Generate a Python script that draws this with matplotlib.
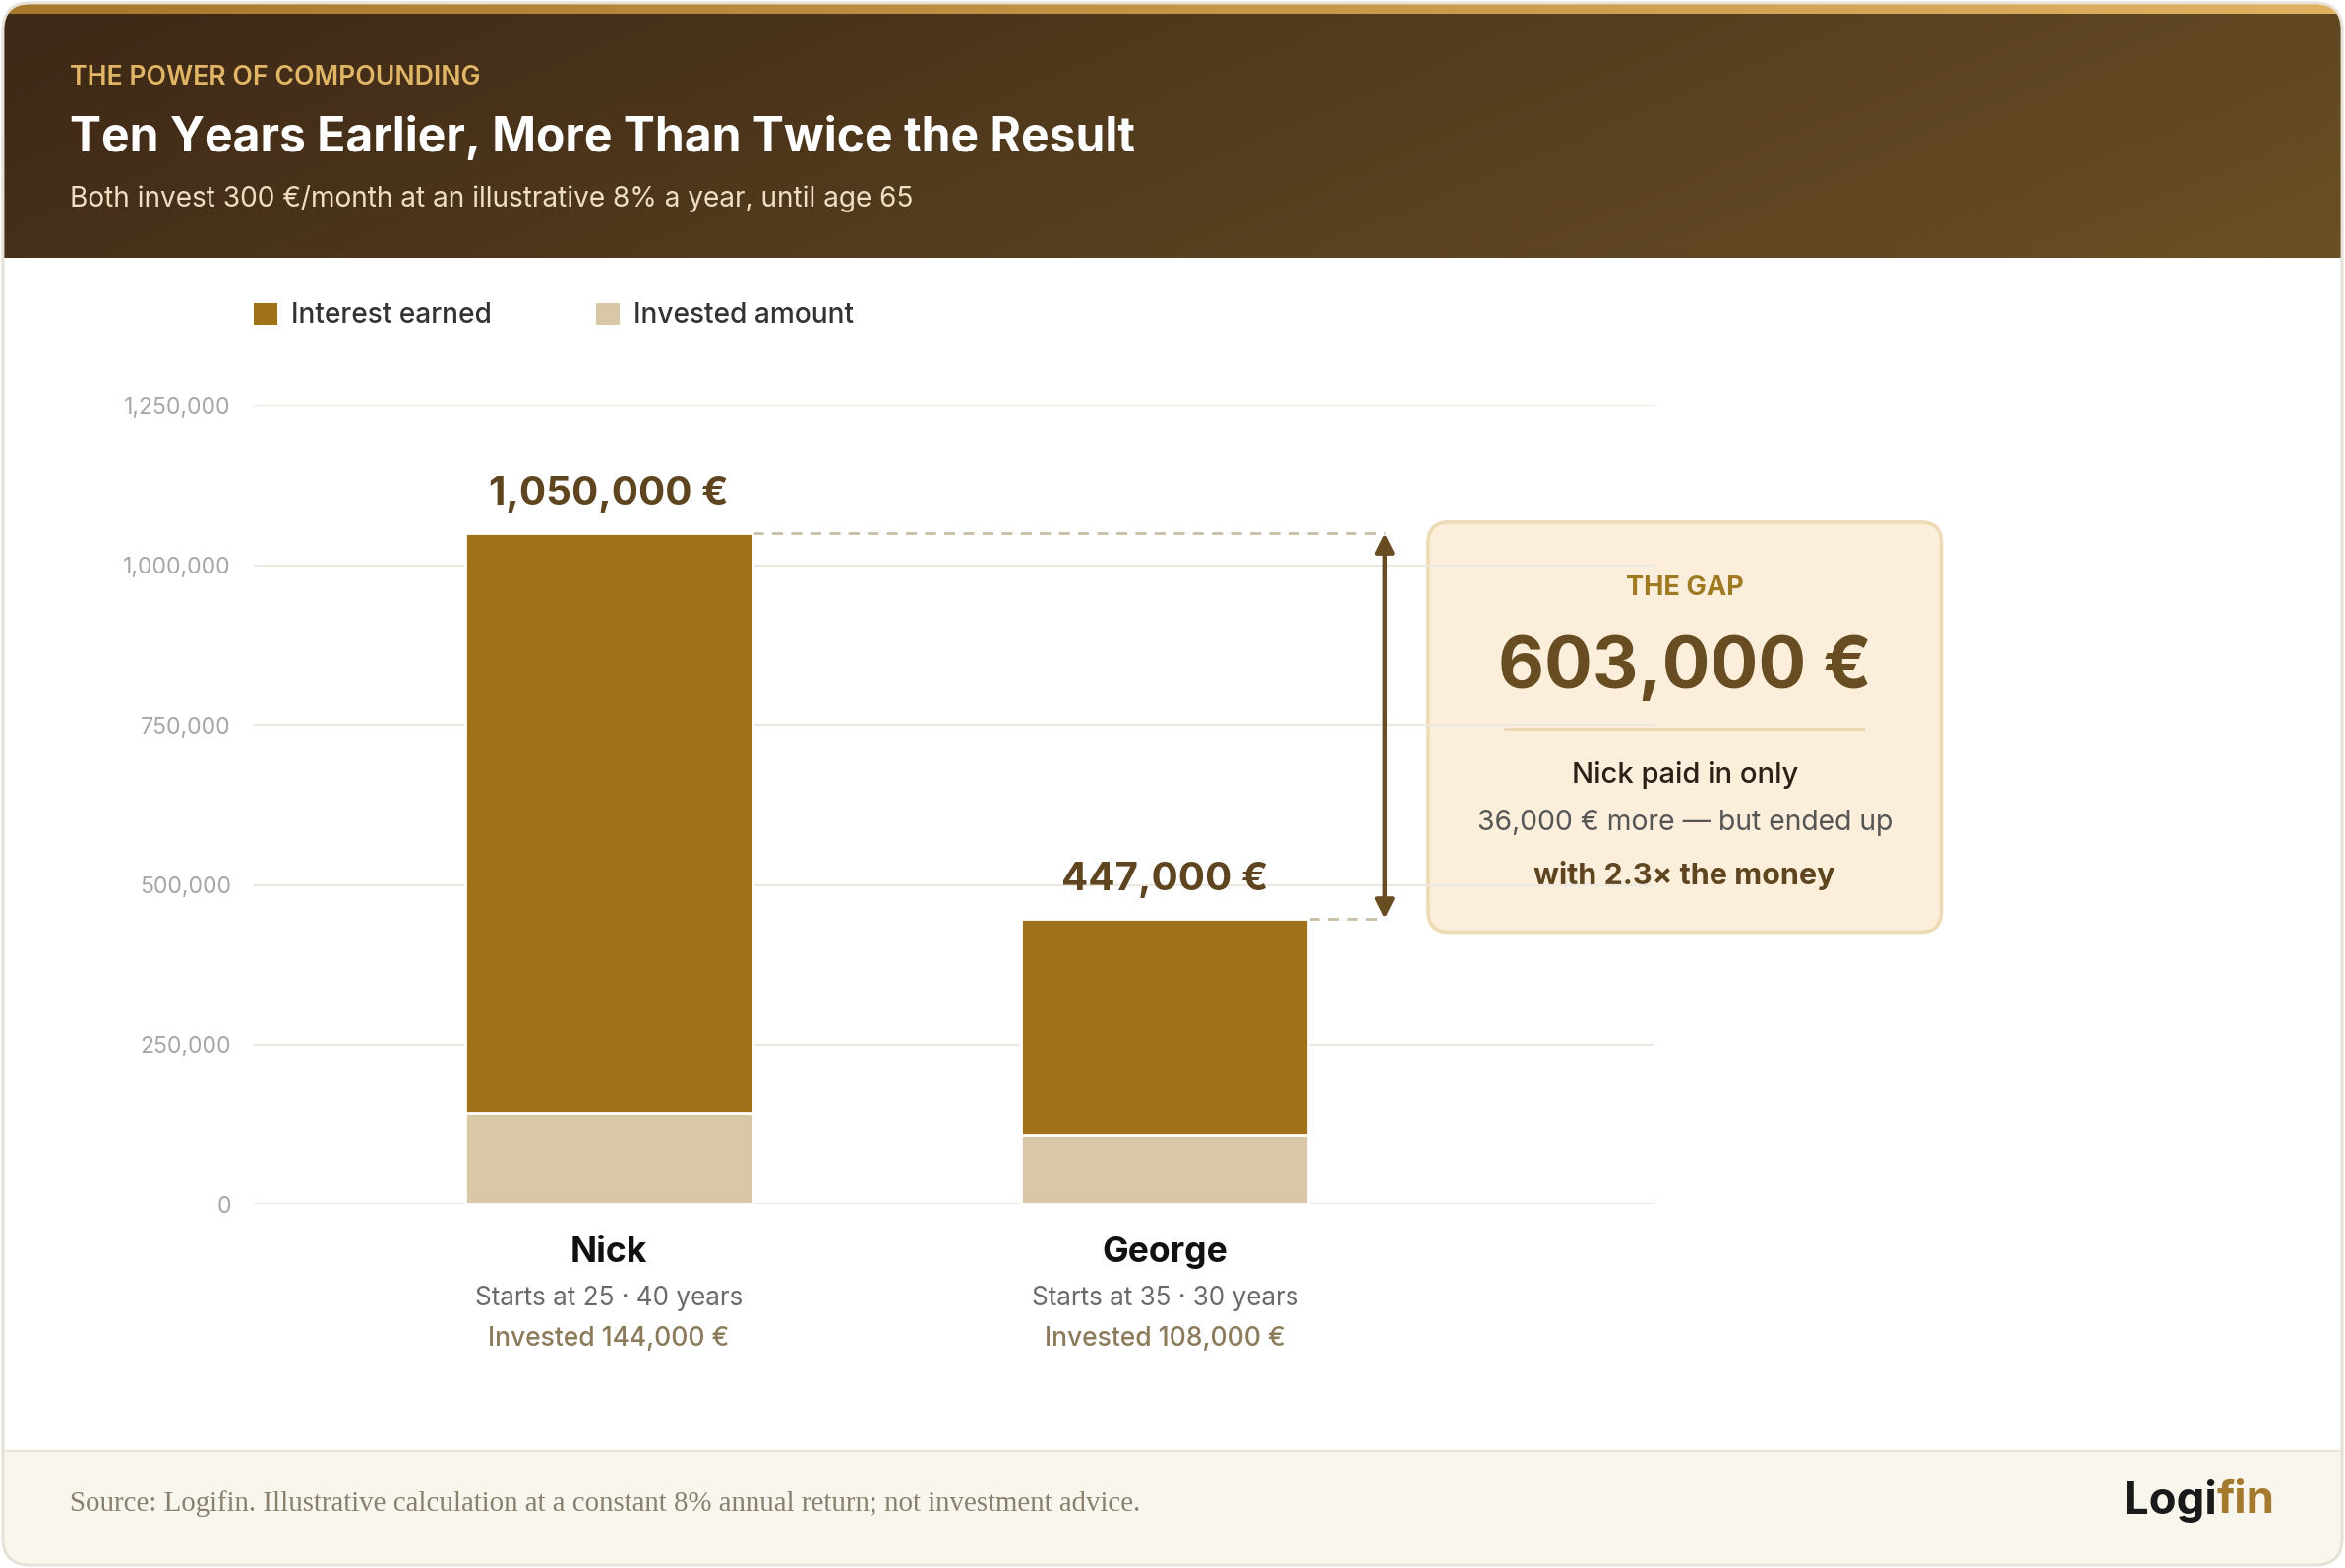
"""
Compounding comparison chart: Nick vs George
"""

import matplotlib
matplotlib.use('Agg')
import matplotlib.pyplot as plt
import numpy as np
from matplotlib.patches import FancyBboxPatch, Rectangle, Patch

plt.rcParams['font.family'] = ['Inter', 'DejaVu Sans']

# Data
people = ['Nick', 'George']
start_ages = [25, 35]
years_invested = [40, 30]
invested = [144000, 108000]
interest = [906000, 339000]
totals = [1050000, 447000]
gap_value = 603000
extra_paid = 36000
multiple = 2.3
yticks = [0, 250000, 500000, 750000, 1000000, 1250000]

# Colours
c_interest = '#a07119'
c_invested = '#d8c8a6'
c_dark = '#684c22'
c_grid = '#ece9e0'

fig = plt.figure(figsize=(11.92, 7.97), dpi=200)

# Background axes in reference pixel units (1568 x 1048)
bg = fig.add_axes([0, 0, 1, 1], zorder=0)
bg.set_xlim(0, 1568)
bg.set_ylim(1048, 0)
bg.axis('off')

card = FancyBboxPatch((2, 2), 1564, 1044, boxstyle='round,pad=0,rounding_size=18',
                      facecolor='white', edgecolor='#e6e2d8', linewidth=1.0)
bg.add_patch(card)

# header gradient
gx = np.linspace(0, 1, 400)[None, :]
gy = np.linspace(0, 1, 60)[:, None]
t = np.clip(0.8 * gx + 0.2 * gy, 0, 1)
left = np.array([0x3d, 0x28, 0x16]) / 255
right = np.array([0x6a, 0x4f, 0x25]) / 255
grad = left[None, None, :] * (1 - t[..., None]) + right[None, None, :] * t[..., None]
im = bg.imshow(grad, extent=[2, 1566, 172, 8], aspect='auto', zorder=1)
im.set_clip_path(card)

# gold strip at top
sx = np.linspace(0, 1, 400)[None, :]
s_left = np.array([0xa6, 0x78, 0x2c]) / 255
s_right = np.array([0xe0, 0xb2, 0x62]) / 255
strip = s_left[None, None, :] * (1 - sx[..., None]) + s_right[None, None, :] * sx[..., None]
im2 = bg.imshow(strip, extent=[2, 1566, 9, 2], aspect='auto', zorder=1.1)
im2.set_clip_path(card)

# footer
foot = Rectangle((2, 970), 1564, 76, facecolor='#f9f6ee', edgecolor='none', zorder=1)
bg.add_patch(foot)
foot.set_clip_path(card)
bg.plot([2, 1566], [970, 970], color='#ece7dc', lw=0.8, zorder=1.2)
bg.add_patch(FancyBboxPatch((2, 2), 1564, 1044, boxstyle='round,pad=0,rounding_size=18',
                            facecolor='none', edgecolor='#e6e2d8', linewidth=1.0, zorder=3))

# header text
bg.text(47, 52, 'THE POWER OF COMPOUNDING', color='#e0b565', fontsize=9.6,
        fontweight='semibold', va='center', ha='left', zorder=4)
bg.text(47, 93, 'Ten Years Earlier, More Than Twice the Result', color='white',
        fontsize=17.3, fontweight='bold', va='center', ha='left', zorder=4)
bg.text(47, 133, 'Both invest 300 €/month at an illustrative 8% a year, until age 65',
        color='#eedfc4', fontsize=10.1, va='center', ha='left', zorder=4)

# footer text
bg.text(47, 1005, 'Source: Logifin. Illustrative calculation at a constant 8% annual return; not investment advice.',
        color='#8a8070', fontsize=10.4, family='Liberation Serif', va='center', ha='left', zorder=4)
t_fin = bg.text(1521, 1003, 'fin', color='#a37a2e', fontsize=16.4, fontweight='bold',
                va='center', ha='right', zorder=4)

# Chart axes
ax = fig.add_axes([170 / 1568, 1 - 805 / 1048, 936 / 1568, 534 / 1048], zorder=2)
ax.patch.set_alpha(0)
x = np.arange(len(people))
bw = 0.516
ax.bar(x, invested, width=bw, color=c_invested, edgecolor='white', linewidth=1.0, zorder=3)
ax.bar(x, interest, bottom=invested, width=bw, color=c_interest, edgecolor='white',
       linewidth=1.0, zorder=3)

ax.set_xlim(-0.637, 1.879)
ax.set_ylim(0, 1250000)
ax.set_yticks(yticks)
ax.set_yticklabels([f'{v:,}' for v in yticks])
ax.tick_params(axis='y', length=0, pad=8.5, labelsize=8.3, labelcolor='#a6a6a6')
ax.set_xticks([])
for s in ax.spines.values():
    s.set_visible(False)
ax.yaxis.grid(True, color=c_grid, linewidth=0.8)
ax.set_axisbelow(True)

# value labels and category labels
for i, name in enumerate(people):
    ax.annotate(f'{totals[i]:,} €', xy=(x[i], totals[i]), xytext=(0, 10.5),
                textcoords='offset points', ha='center', va='baseline',
                fontsize=14.5, fontweight='bold', color='#5e4520', zorder=5)
    ax.annotate(name, xy=(x[i], 0), xytext=(0, -17.5), textcoords='offset points',
                ha='center', va='center', fontsize=12.8, fontweight='bold',
                color='#111111', annotation_clip=False)
    ax.annotate(f'Starts at {start_ages[i]} · {years_invested[i]} years', xy=(x[i], 0),
                xytext=(0, -34.5), textcoords='offset points', ha='center', va='center',
                fontsize=9.4, color='#6a6a6a', annotation_clip=False)
    ax.annotate(f'Invested {invested[i]:,} €', xy=(x[i], 0), xytext=(0, -49),
                textcoords='offset points', ha='center', va='center', fontsize=9.5,
                fontweight='medium', color='#8c7b5a', annotation_clip=False)

# gap guides and arrow
arrow_x = 1.395
ax.plot([x[0] + bw / 2, arrow_x], [totals[0], totals[0]], color='#c8bfa3', lw=1.0,
        ls=(0, (4, 3)), clip_on=False, zorder=2)
ax.plot([x[1] + bw / 2, arrow_x], [totals[1], totals[1]], color='#c8bfa3', lw=1.0,
        ls=(0, (4, 3)), clip_on=False, zorder=2)
ax.annotate('', xy=(arrow_x, totals[0]), xytext=(arrow_x, totals[1]),
            arrowprops=dict(arrowstyle='<|-|>', color=c_dark, lw=1.6, mutation_scale=14,
                            shrinkA=0, shrinkB=0), annotation_clip=False)

# legend
handles = [Patch(facecolor=c_interest, label='Interest earned'),
           Patch(facecolor=c_invested, label='Invested amount')]
fig.legend(handles=handles, loc='center left', bbox_to_anchor=(153 / 1568, 1 - 211 / 1048),
           ncol=2, frameon=False, handlelength=0.85, handleheight=0.85,
           handletextpad=0.5, columnspacing=3.8, labelcolor='#333333',
           prop={'weight': 'medium', 'size': 10.1})

# callout box
box = FancyBboxPatch((955, 349), 343, 274, boxstyle='round,pad=0,rounding_size=14',
                     facecolor='#fbefdc', edgecolor='#ecdbb4', linewidth=1.3, zorder=4)
bg.add_patch(box)
cx = 1126.5
bg.text(cx, 393, 'THE GAP', color='#a07a22', fontsize=9.8, fontweight='bold',
        ha='center', va='center', zorder=5)
bg.text(cx, 447, f'{gap_value:,} €', color=c_dark, fontsize=26, fontweight='bold',
        ha='center', va='center', zorder=5)
bg.plot([1006, 1246], [487, 487], color='#ecd8b0', lw=1.0, zorder=5)
bg.text(cx, 518, 'Nick paid in only', color='#2a2016', fontsize=10.5, fontweight='medium',
        ha='center', va='center', zorder=5)
bg.text(cx, 550, f'{extra_paid:,} € more — but ended up', color='#555555', fontsize=10.2,
        ha='center', va='center', zorder=5)
bg.text(cx, 585, f'with {multiple}× the money', color='#5e4520', fontsize=11,
        fontweight='bold', ha='center', va='center', zorder=5)

# Logifin wordmark: "Logi" placed left of "fin"
fig.canvas.draw()
bb = t_fin.get_window_extent()
x_left = bg.transData.inverted().transform((bb.x0, bb.y0))[0]
bg.text(x_left, 1003, 'Logi', color='#1a1a1a', fontsize=16.4, fontweight='bold',
        va='center', ha='right', zorder=4)

plt.savefig('out.png', dpi=200, facecolor='white')
plt.close()
